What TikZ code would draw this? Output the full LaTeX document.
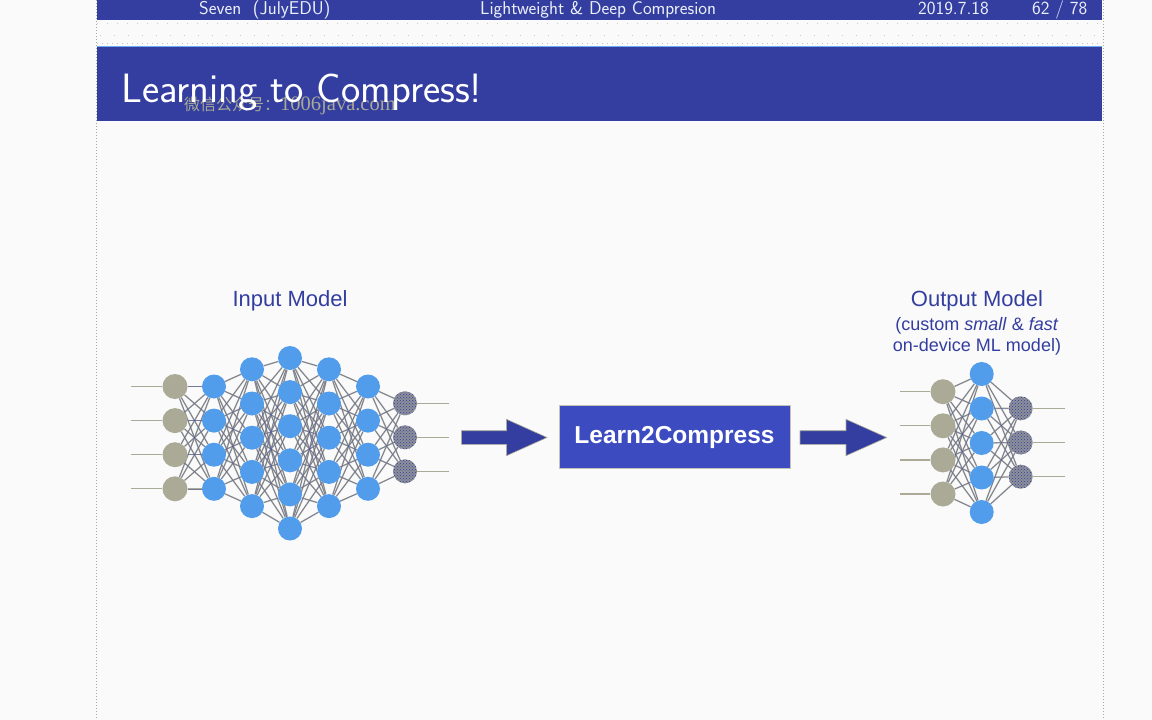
\documentclass[tikz,border=0pt]{standalone}
\usepackage{fontspec}
\newfontfamily\arialf{Liberation Sans}
\newfontfamily\timesf{Liberation Serif}
\newfontfamily\cjkf{Noto Sans CJK SC}
\usetikzlibrary{patterns}

\definecolor{slideblue}{RGB}{51,62,160}
\definecolor{nodeblue}{RGB}{81,157,235}
\definecolor{nodegray}{RGB}{170,170,150}
\definecolor{boxblue}{RGB}{60,76,192}
\definecolor{pagebg}{RGB}{250,250,250}
\definecolor{headtext}{RGB}{236,240,250}
\definecolor{rulelight}{RGB}{110,170,240}

\pgfdeclarelayer{back}
\pgfdeclarelayer{links}
\pgfsetlayers{back,links,main}

\tikzset{
  neuron/.style={circle, minimum size=24, inner sep=0pt},
  inneuron/.style={neuron, fill=nodegray, minimum size=25},
  hidneuron/.style={neuron, fill=nodeblue},
  outneuron/.style={neuron, preaction={fill=nodegray!75!slideblue}, pattern=crosshatch dots, pattern color=slideblue},
  synapse/.style={draw=nodegray, line width=1.4pt},
  synapsehi/.style={draw=slideblue, line width=0.6pt, opacity=0.45},
  wire/.style={draw=nodegray, line width=1.2pt},
  modellabel/.style={font=\arialf\fontsize{22}{26}\selectfont, text=slideblue, align=center},
  sublabel/.style={font=\arialf\fontsize{18}{20.7}\selectfont, text=slideblue, align=center},
  headlabel/.style={font=\sffamily\fontsize{18.5}{20}\selectfont, text=headtext, anchor=base west, inner sep=0pt},
  blockarrow/.style={fill=slideblue, draw=nodegray, line width=0.6pt},
}

\begin{document}
\begin{tikzpicture}[x=1pt, y=-1pt]
\useasboundingbox (0,0) rectangle (1152,720);

% page, slide edges and bars
\begin{pgfonlayer}{back}
  \fill[pagebg] (0,0) rectangle (1152,720);
  \draw[nodegray, line width=1pt, dotted] (96,0) -- (96,720);
  \draw[nodegray, line width=1pt, dotted] (1103,0) -- (1103,720);
  \draw[nodegray!60, line width=0.8pt, dash pattern=on 1pt off 9pt] (97,23) -- (1102,23);
  \draw[nodegray!60, line width=0.8pt, dash pattern=on 1pt off 13pt] (100,35) -- (1102,35);
  \draw[nodegray!70, line width=0.8pt, dash pattern=on 1pt off 4pt] (97,43.5) -- (1102,43.5);
  \fill[slideblue] (97,0) rectangle (1102,20);
  \fill[slideblue] (97,46) rectangle (1102,121);
  \draw[rulelight, line width=1pt] (97,46.5) -- (1102,46.5);
\end{pgfonlayer}

% headline
\node[headlabel] (hauthor) at (199,14) {Seven\ \ (JulyEDU)};
\node[headlabel] (htopic) at (480,14) {Lightweight \& Deep Compresion};
\node[headlabel] (hdate) at (918,14) {2019.7.18};
\node[headlabel] (hpage) at (1032,14) {62 / 78};

% frame title
\node[anchor=base west, inner sep=0pt, text=nodegray] (wmark) at (184,110)
  {\cjkf\fontsize{16}{18}\selectfont 微信公众号：\timesf\fontsize{20.5}{22}\selectfont 1006java.com};
\node[anchor=base west, inner sep=0pt, text=white, font=\sffamily\fontsize{41}{46}\selectfont] (ftitle) at (121,102) {Learning to Compress!};

% ---------- input model ----------
\node[modellabel] (inlabel) at (290,301) {Input Model};

\foreach \i in {1,...,4} {
  \node[inneuron]  (a1-\i) at (175, {386.5+34.1*(\i-1)}) {};
  \node[hidneuron] (a2-\i) at (214, {386.5+34.1*(\i-1)}) {};
  \node[hidneuron] (a6-\i) at (368, {386.5+34.1*(\i-1)}) {};
  \coordinate (ain-\i) at (131, {386.5+34.1*(\i-1)});
}
\foreach \i in {1,...,5} {
  \node[hidneuron] (a3-\i) at (252, {369.3+34.2*(\i-1)}) {};
  \node[hidneuron] (a5-\i) at (329, {369.3+34.2*(\i-1)}) {};
}
\foreach \i in {1,...,6}
  \node[hidneuron] (a4-\i) at (290, {358+34.1*(\i-1)}) {};
\foreach \i in {1,...,3} {
  \node[outneuron] (a7-\i) at (405, {403.3+34*(\i-1)}) {};
  \coordinate (aout-\i) at (449, {403.3+34*(\i-1)});
}

\begin{pgfonlayer}{links}
  \foreach \i in {1,...,4} \draw[wire] (ain-\i) -- (a1-\i);
  \foreach \i in {1,...,3} \draw[wire] (a7-\i) -- (aout-\i);
  \foreach \i in {1,...,4} \foreach \j in {1,...,4} \draw[synapse] (a1-\i) -- (a2-\j);
  \foreach \i in {1,...,4} \foreach \j in {1,...,5} \draw[synapse] (a2-\i) -- (a3-\j);
  \foreach \i in {1,...,5} \foreach \j in {1,...,6} \draw[synapse] (a3-\i) -- (a4-\j);
  \foreach \i in {1,...,6} \foreach \j in {1,...,5} \draw[synapse] (a4-\i) -- (a5-\j);
  \foreach \i in {1,...,5} \foreach \j in {1,...,4} \draw[synapse] (a5-\i) -- (a6-\j);
  \foreach \i in {1,...,4} \foreach \j in {1,...,3} \draw[synapse] (a6-\i) -- (a7-\j);
  % darker strands along the fan-out
  \foreach \i in {1,...,4} \foreach \j in {1,...,4} \draw[synapsehi] (a1-\i) -- (a2-\j);
  \foreach \i in {1,...,4} \foreach \j in {1,...,5} \draw[synapsehi] (a2-\i) -- (a3-\j);
  \foreach \i in {1,...,5} \foreach \j in {1,...,6} \draw[synapsehi] (a3-\i) -- (a4-\j);
  \foreach \i in {1,...,6} \foreach \j in {1,...,5} \draw[synapsehi] (a4-\i) -- (a5-\j);
  \foreach \i in {1,...,5} \foreach \j in {1,...,4} \draw[synapsehi] (a5-\i) -- (a6-\j);
  \foreach \i in {1,...,4} \foreach \j in {1,...,3} \draw[synapsehi] (a6-\i) -- (a7-\j);
\end{pgfonlayer}

% ---------- compression step ----------
\node[fill=boxblue, draw=nodegray!70, line width=0.6pt, minimum width=231, minimum height=62.5, inner sep=0pt,
      text=white, font=\arialf\bfseries\fontsize{24.5}{28}\selectfont] (l2c) at (674.5,437) {Learn2Compress};

\coordinate (arr1) at (461.5,437.5);
\coordinate (arr2) at (800,437.5);
\draw[blockarrow] (arr1) ++(0,-6.8) -- ++(45,0) -- ++(0,-11.4) -- ++(40.5,18.2) -- ++(-40.5,18.2)
  -- ++(0,-11.4) -- ++(-45,0) -- cycle;
\draw[blockarrow] (arr2) ++(0,-6.8) -- ++(46,0) -- ++(0,-11.4) -- ++(40.7,18.2) -- ++(-40.7,18.2)
  -- ++(0,-11.4) -- ++(-46,0) -- cycle;

% ---------- output model ----------
\node[modellabel] (outlabel) at (977,301) {Output Model};
\node[sublabel] (outnote) at (977,336)
  {(custom \textit{small} \& \textit{fast}\\on-device ML model)};

\foreach \i in {1,...,4} {
  \node[inneuron] (b1-\i) at (943, {391.7+34.1*(\i-1)}) {};
  \coordinate (bin-\i) at (900, {391.7+34.1*(\i-1)});
}
\foreach \i in {1,...,5}
  \node[hidneuron] (b2-\i) at (981.7, {374+34.5*(\i-1)}) {};
\foreach \i in {1,...,3} {
  \node[outneuron] (b3-\i) at (1020.7, {408.3+34.2*(\i-1)}) {};
  \coordinate (bout-\i) at (1065, {408.3+34.2*(\i-1)});
}

\begin{pgfonlayer}{links}
  \foreach \i in {1,...,4} \draw[wire] (bin-\i) -- (b1-\i);
  \foreach \i in {1,...,3} \draw[wire] (b3-\i) -- (bout-\i);
  \foreach \i in {1,...,4} \foreach \j in {1,...,5} \draw[synapse] (b1-\i) -- (b2-\j);
  \foreach \i in {1,...,5} \foreach \j in {1,...,3} \draw[synapse] (b2-\i) -- (b3-\j);
  \foreach \i in {1,...,4} \foreach \j in {1,...,5} \draw[synapsehi] (b1-\i) -- (b2-\j);
  \foreach \i in {1,...,5} \foreach \j in {1,...,3} \draw[synapsehi] (b2-\i) -- (b3-\j);
\end{pgfonlayer}

\end{tikzpicture}
\end{document}
